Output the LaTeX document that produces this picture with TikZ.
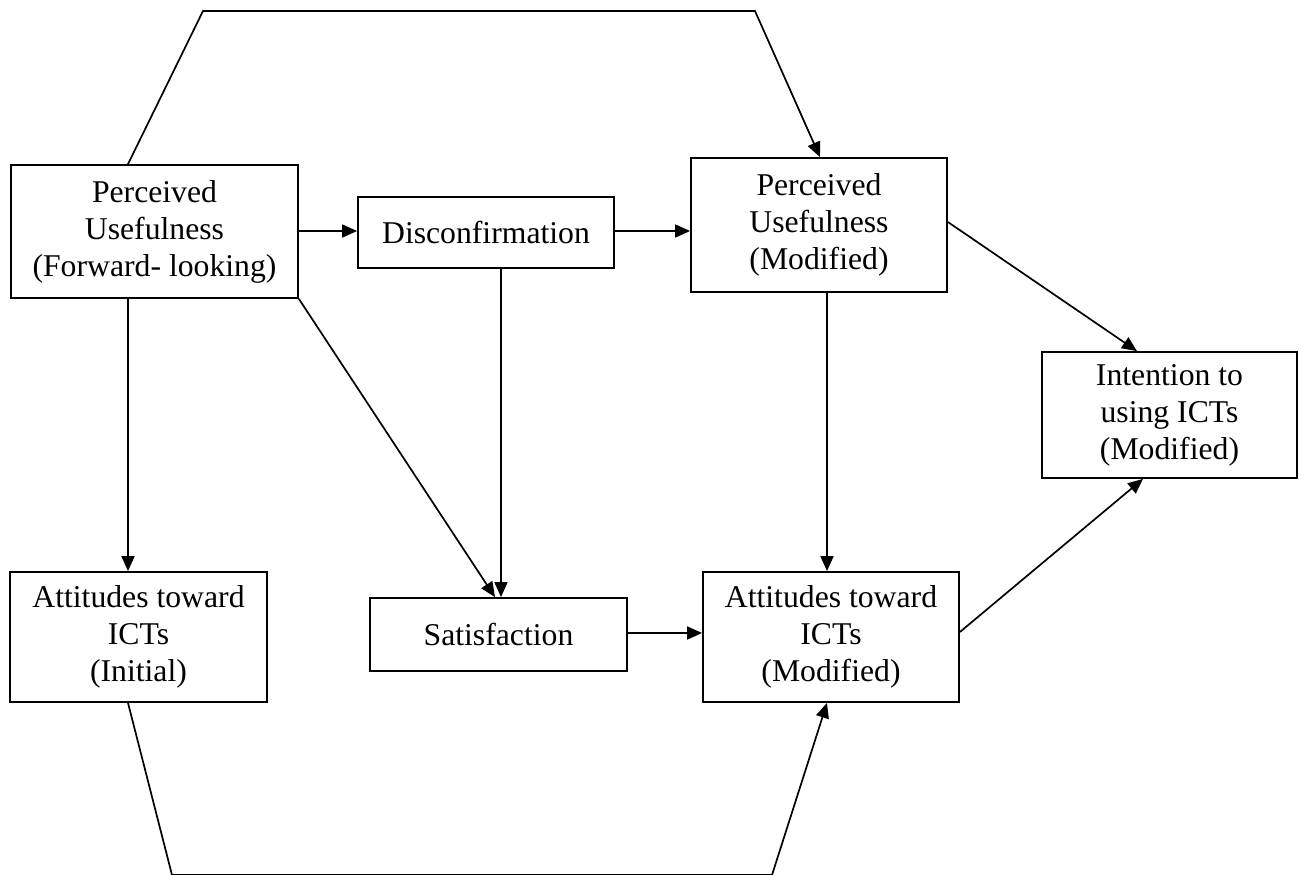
\documentclass[tikz,border=0pt]{standalone}
\usepackage{fontspec}
\setmainfont{Liberation Serif}
\usetikzlibrary{arrows.meta}
\begin{document}
\begin{tikzpicture}[x=1pt,y=-1pt,
  box/.style={draw,line width=1.8pt,rectangle,inner sep=0pt,align=center,
              font=\fontsize{31.7}{37}\selectfont},
  conn/.style={line width=1.7pt},
  arr/.style={conn,-{Triangle[length=15pt,width=13pt]}}]
\useasboundingbox (0,0) rectangle (1299,875);

% constructs
\node[box,minimum width=287pt,minimum height=133pt] (pu1) at (154.5,231.5)
  {Perceived\\Usefulness\\(Forward- looking)};
\node[box,minimum width=256pt,minimum height=71pt] (dis) at (486,232.5)
  {Disconfirmation};
\node[box,minimum width=256pt,minimum height=134pt] (pu2) at (819,225)
  {Perceived\\Usefulness\\(Modified)};
\node[box,minimum width=255pt,minimum height=126pt] (int) at (1169.5,415)
  {Intention to\\using ICTs\\(Modified)};
\node[box,minimum width=257pt,minimum height=130pt] (at1) at (138.5,637)
  {Attitudes toward\\ICTs\\(Initial)};
\node[box,minimum width=257pt,minimum height=73pt] (sat) at (498.5,634.5)
  {Satisfaction};
\node[box,minimum width=256pt,minimum height=130pt] (at2) at (831,637)
  {Attitudes toward\\ICTs\\(Modified)};

% guide positions for connector ends
\coordinate (ka) at (128,0);
\coordinate (kb) at (501,0);
\coordinate (kc) at (827,0);
\coordinate (kd) at (495,0);
\coordinate (ke) at (1137,0);
\coordinate (kf) at (1143,0);
\coordinate (tx) at (820,0);
\coordinate (ra) at (0,231);
\coordinate (rb) at (0,633);
\coordinate (rc) at (0,222);
\coordinate (rd) at (0,632);
\coordinate (t1) at (203,11);
\coordinate (t2) at (755,11);
\coordinate (b1) at (172,875);
\coordinate (b2) at (772,875);

% connectors
\draw[arr] (pu1.east |- ra) -- (dis.west |- ra);
\draw[arr] (dis.east |- ra) -- (pu2.west |- ra);
\draw[arr] (pu1.south -| ka) -- (at1.north -| ka);
\draw[arr] (pu1.south east) -- (sat.north -| kd);
\draw[arr] (dis.south -| kb) -- (sat.north -| kb);
\draw[arr] (sat.east |- rb) -- (at2.west |- rb);
\draw[arr] (pu2.south -| kc) -- (at2.north -| kc);
\draw[arr] (pu2.east |- rc) -- (int.north -| ke);
\draw[arr] (at2.east |- rd) -- (int.south -| kf);
\draw[arr] (pu1.north -| ka) -- (t1) -- (t2) -- (pu2.north -| tx);
\draw[arr] (at1.south -| ka) -- (b1) -- (b2) -- (at2.south -| kc);
\end{tikzpicture}
\end{document}
